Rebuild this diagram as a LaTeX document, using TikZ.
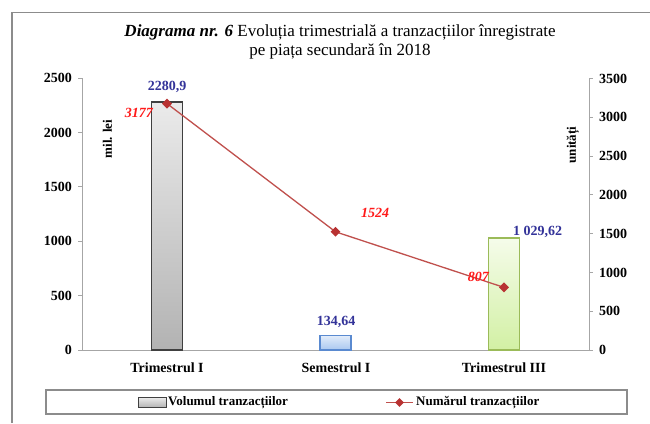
\documentclass[tikz,border=0pt]{standalone}
\usepackage{fontspec}
\setmainfont{Liberation Serif}
\usetikzlibrary{shapes.geometric}
\definecolor{framegray}{HTML}{8C8C8C}
\definecolor{axisgray}{HTML}{A6A6A6}
\definecolor{lblue}{HTML}{333399}
\definecolor{lred}{HTML}{FF1A1A}
\definecolor{linered}{HTML}{C0504D}
\definecolor{mkred}{HTML}{B83232}
\definecolor{bluebd}{HTML}{5A8AD0}
\definecolor{bluetop}{HTML}{E2ECFA}
\definecolor{bluebot}{HTML}{A9C8F0}
\definecolor{greenbd}{HTML}{9BBB59}
\definecolor{greentop}{HTML}{F5FCEA}
\definecolor{greenbot}{HTML}{D2F0A4}
\begin{document}
\begin{tikzpicture}[x=1pt,y=-1pt,
  ticklbl/.style={font=\fontsize{14}{16}\selectfont\bfseries, inner sep=0pt},
  catlbl/.style={font=\fontsize{14}{16}\selectfont\bfseries, inner sep=0pt},
  axtitle/.style={font=\fontsize{13}{15}\selectfont\bfseries, rotate=90, inner sep=0pt},
  vallbl/.style={font=\fontsize{14}{16}\selectfont\bfseries, text=lblue, inner sep=0pt},
  numlbl/.style={font=\fontsize{14}{16}\selectfont\bfseries\itshape, text=lred, inner sep=0pt},
  leglbl/.style={font=\fontsize{13}{15}\selectfont\bfseries, inner sep=0pt},
  mk/.style={diamond, fill=mkred, minimum size=10pt, inner sep=0pt},
  axline/.style={axisgray, line width=1pt},
  bargray/.style={draw=black!75, line width=1.3pt, top color=black!8, bottom color=black!30},
  barblue/.style={draw=bluebd, line width=1.3pt, top color=bluetop, bottom color=bluebot},
  bargreen/.style={draw=greenbd, line width=1.3pt, top color=greentop, bottom color=greenbot},
]
\useasboundingbox (0,0) rectangle (650,423);
\fill[white] (0,0) rectangle (650,423);
% outer frame (cut by the picture edge)
\draw[framegray, line width=1.6pt] (12,423) -- (12,12.5) -- (650,12.5);
% title
\node[font=\fontsize{17}{19.5}\selectfont, align=center, inner sep=0pt] (title) at (340,42)
  {\textbf{\textit{Diagrama nr. 6}} Evoluția trimestrială a tranzacțiilor înregistrate\\ pe piața secundară în 2018};
% axes
\draw[axline] (82,78.3) -- (82,350) -- (589,350) -- (589,78.5);
\foreach \v in {0,500,1000,1500,2000,2500}{
  \pgfmathsetmacro\yy{350-\v*0.10868}
  \draw[axline] (78,\yy) -- (82,\yy);
  \node[ticklbl, anchor=east] (L\v) at (72,\yy) {\v};
}
\foreach \v in {0,500,1000,1500,2000,2500,3000,3500}{
  \pgfmathsetmacro\yy{350-\v*0.077571}
  \draw[axline] (589,\yy) -- (593,\yy);
  \node[ticklbl, anchor=west] (R\v) at (599,\yy) {\v};
}
\node[axtitle] (ytl) at (107.5,139) {mil. lei};
\node[axtitle] (ytr) at (573,145) {unități};
% bars
\path[bargray] (151.5,350) rectangle (182.5,102.1);
\path[barblue] (320,350) rectangle (351,335.4);
\path[bargreen] (488.5,350) rectangle (519.5,238.1);
% categories
\node[catlbl] (c1) at (167,368) {Trimestrul I};
\node[catlbl] (c2) at (336,368) {Semestrul I};
\node[catlbl] (c3) at (504,368) {Trimestrul III};
% line series
\coordinate (d1) at (167,103.6);
\coordinate (d2) at (335.5,231.8);
\coordinate (d3) at (504,287.4);
\draw[linered, line width=1.3pt] (d1) -- (d2) -- (d3);
\node[mk] (m1) at (d1) {};
\node[mk] (m2) at (d2) {};
\node[mk] (m3) at (d3) {};
% data labels
\node[vallbl] (v1) at (167,87) {2280,9};
\node[vallbl] (v2) at (336,322) {134,64};
\node[vallbl, anchor=west] (v3) at (513,232) {1 029,62};
\node[numlbl, anchor=east] (n1) at (153,113) {3177};
\node[numlbl] (n2) at (375,213) {1524};
\node[numlbl, anchor=east] (n3) at (489,277) {807};
% legend
\draw[framegray, line width=1.3pt] (46,390) rectangle (627,414);
\path[draw=black!75, line width=1pt, top color=black!8, bottom color=black!30] (138,397.5) rectangle (166,407.5);
\node[leglbl, anchor=west] (lg1) at (168,402.5) {Volumul tranzacțiilor};
\coordinate (la) at (386,402.5);
\coordinate (lb) at (413,402.5);
\draw[linered, line width=1.3pt] (la) -- (lb);
\node[mk, minimum size=9pt] (lm) at (399.5,402.5) {};
\node[leglbl, anchor=west] (lg2) at (416,402.5) {Numărul tranzacțiilor};
\end{tikzpicture}
\end{document}
